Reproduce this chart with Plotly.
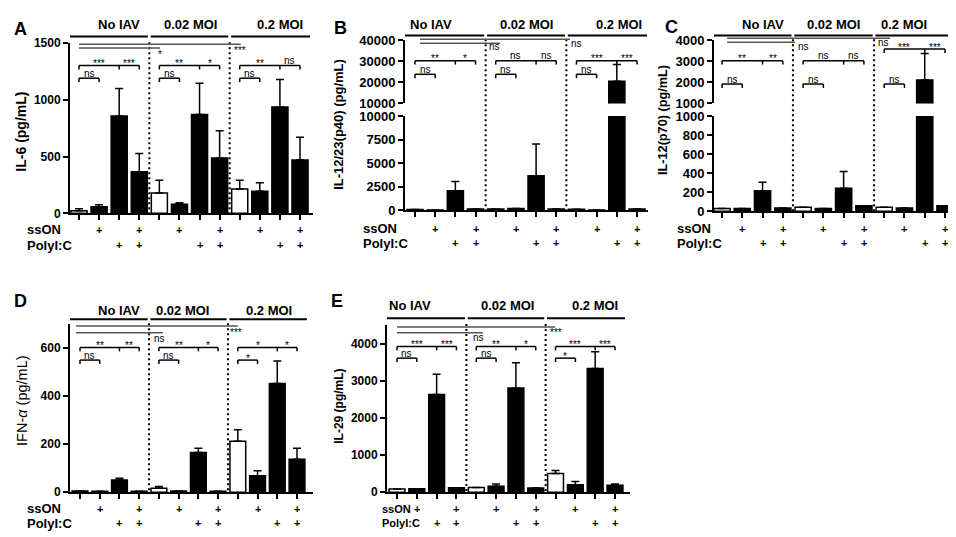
import plotly.graph_objects as go

W, H = 956, 537
FONT = "Arial, Liberation Sans, sans-serif"

groups = ["No IAV", "0.02 MOI", "0.2 MOI"]
ssON_marks = ["", "+", "", "+"] * 3
polyIC_marks = ["", "", "+", "+"] * 3
bar_pos = list(range(12))

# mean and upper error, 4 bars per infection group
il6 = [23, 57, 857, 367, 178, 80, 871, 487, 215, 195, 937, 470]
il6_err = [17, 18, 243, 160, 114, 12, 275, 241, 77, 74, 243, 200]
il12p40 = [100, 50, 2090, 150, 150, 200, 3660, 150, 120, 50, 20600, 150]
il12p40_err = [0, 0, 960, 0, 0, 0, 3390, 0, 0, 0, 7860, 0]
il12p70 = [30, 30, 217, 34, 44, 30, 242, 58, 44, 34, 2110, 58]
il12p70_err = [0, 0, 88, 0, 0, 0, 176, 0, 0, 0, 1260, 0]
ifna = [5, 4, 51, 4, 17, 5, 166, 4, 212, 69, 453, 137]
ifna_err = [0, 0, 7, 0, 7, 0, 17, 0, 48, 21, 93, 46]
il29 = [87, 96, 2635, 122, 131, 165, 2809, 113, 507, 200, 3330, 192]
il29_err = [0, 0, 539, 0, 0, 61, 678, 0, 78, 88, 453, 34]

# per group: (bar1 vs bar2, bar1 vs bar3, bar3 vs bar4)
sig_A = [("ns", "***", "***"), ("ns", "**", "*"), ("ns", "**", "ns")]
sig_B = [("ns", "**", "*"), ("ns", "ns", "ns"), ("ns", "***", "***")]
sig_C = [("ns", "**", "**"), ("ns", "ns", "ns"), ("ns", "***", "***")]
sig_D = [("ns", "**", "**"), ("ns", "**", "*"), ("*", "*", "*")]
sig_E = [("ns", "***", "***"), ("ns", "**", "*"), ("*", "***", "***")]
# untreated No IAV vs untreated (0.2 MOI, 0.02 MOI)
cross_A = ("***", "*")
cross_B = ("ns", "ns")
cross_C = ("ns", "ns")
cross_D = ("***", "ns")
cross_E = ("***", "ns")

ticks_A = [0, 500, 1000, 1500]
ticks_B_low = [0, 2500, 5000, 7500, 10000]
ticks_B_high = [10000, 20000, 30000, 40000]
ticks_C_low = [0, 200, 400, 600, 800, 1000]
ticks_C_high = [1000, 2000, 3000, 4000]
ticks_D = [0, 200, 400, 600]
ticks_E = [0, 1000, 2000, 3000, 4000]

fills = ["white", "black", "black", "black"] * 3

panels = [
    dict(letter="A", title="<b>IL-6 (pg/mL)</b>", vals=il6, errs=il6_err, sig=sig_A, cross=cross_A,
         x0=62, x1=305, b0=71, b11=292, segs=[(204, 29, 0, 1500, ticks_A)],
         head_y=22, lab_y=10, lab_x=[2.0, 5.55, 10.0], dot_top=28,
         long=[(30, 0.0, 8.05, 8.0, 34), (34, 0.0, 4.03, 4.03, 38)],
         main_y=[52, 52, 52], ns_y=[65, 65, 65], row_y=(221, 237), row_x=17, row_size=13,
         letter_pos=(12, 14), title_pos=(13, 120), title_size=14, tick_size=12),
    dict(letter="B", title="<b>IL-12/23(p40) (pg/mL)</b>", vals=il12p40, errs=il12p40_err, sig=sig_B,
         cross=cross_B, x0=397, x1=640, b0=407, b11=629,
         segs=[(201, 104, 0, 10000, ticks_B_low), (91, 26, 10000, 40000, ticks_B_high)],
         head_y=21, lab_y=10, lab_x=[0.8, 5.5, 10.1], dot_top=25,
         long=[(25, 0.25, 7.68, 7.98, 29.5), (29, 0.25, 4.21, 3.96, 33)],
         main_y=[47, 47, 47], ns_y=[61, 61, 61], row_y=(220, 235), row_x=353, row_size=13,
         letter_pos=(332, 13), title_pos=(331, 113), title_size=13, tick_size=13),
    dict(letter="C", title="<b>IL-12(p70) (pg/mL)</b>", vals=il12p70, errs=il12p70_err, sig=sig_C,
         cross=cross_C, x0=706, x1=950, b0=714, b11=937,
         segs=[(202, 104, 0, 1000, ticks_C_low), (91, 26, 1000, 4000, ticks_C_high)],
         head_y=21, lab_y=10, lab_x=[2.0, 5.5, 9.0], dot_top=25,
         long=[(24, 0.25, 8.29, 7.99, 29), (28, 0.25, 3.6, 4.0, 33)],
         main_y=[47, 47, 35], ns_y=[71, 71, 71], row_y=(220, 235), row_x=667, row_size=13,
         letter_pos=(663, 12), title_pos=(655, 108), title_size=12.7, tick_size=13),
    dict(letter="D", title="IFN-<i>α</i> (pg/mL)", vals=ifna, errs=ifna_err, sig=sig_D, cross=cross_D,
         x0=62, x1=305, b0=72, b11=289, segs=[(491, 318, 0, 700, ticks_D)],
         head_y=313, lab_y=303.5, lab_x=[2.0, 5.2, 9.6], dot_top=317,
         long=[(320, -0.2, 8.0, 7.9, 324), (327, -0.2, 4.2, 4.05, 333)],
         main_y=[342, 342, 342], ns_y=[355, 355, 355], row_y=(508, 523), row_x=17, row_size=13,
         letter_pos=(12, 294), title_pos=(14, 397), title_size=14.5, tick_size=12),
    dict(letter="E", title="<b>IL-29 (pg/mL)</b>", vals=il29, errs=il29_err, sig=sig_E, cross=cross_E,
         x0=379, x1=622, b0=389, b11=607, segs=[(491, 319, 0, 4500, ticks_E)],
         head_y=312, lab_y=299, lab_x=[0.66, 5.6, 10.0], dot_top=318,
         long=[(321, 0.0, 7.98, 8.03, 324), (327, 0.0, 4.34, 4.09, 332)],
         main_y=[341, 341, 341], ns_y=[353, 353, 353], row_y=(508, 523), row_x=372, row_size=11,
         letter_pos=(329, 294), title_pos=(331, 403), title_size=12, tick_size=12),
]


def py(p):
    return 1 - p / H


def akey(kind, n):
    return f"{kind}axis" if n == 1 else f"{kind}axis{n}"


def aref(kind, n):
    return kind if n == 1 else f"{kind}{n}"


fig = go.Figure()
axes = {}
shapes = []
annots = []


def hline(xr, xa, xb, y, color="black", width=1.5, dash="solid"):
    shapes.append(dict(type="line", xref=xr, yref="paper", x0=xa, x1=xb, y0=py(y), y1=py(y),
                       line=dict(color=color, width=width, dash=dash)))


def vline(xr, xv, ya, yb, color="black", width=1.5, dash="solid"):
    shapes.append(dict(type="line", xref=xr, yref="paper", x0=xv, x1=xv, y0=py(ya), y1=py(yb),
                       line=dict(color=color, width=width, dash=dash)))


def text(xr, x, y, s, size, bold=False, xanchor="center", angle=0):
    annots.append(dict(xref=xr, yref="paper", x=x, y=py(y), text=f"<b>{s}</b>" if bold else s,
                       showarrow=False, xanchor=xanchor, yanchor="middle", textangle=angle,
                       font=dict(family=FONT, size=size, color="black")))


def sig_text(xr, x, glyph_y, s):
    # asterisks sit high in the line box, "ns" sits low
    off = 2.5 if "*" in s else -0.6
    text(xr, x, glyph_y + off, s, 10)


yn = 0
for pn, P in enumerate(panels, start=1):
    xr = aref("x", pn)
    s = (P["b11"] - P["b0"]) / 11
    lo = -(P["b0"] - P["x0"]) / s
    hi = 11 + (P["x1"] - P["b11"]) / s
    axes[akey("x", pn)] = dict(domain=[P["x0"] / W, P["x1"] / W], range=[lo, hi],
                               anchor=aref("y", yn + 1), showline=True, linewidth=2, linecolor="black",
                               ticks="outside", tickvals=bar_pos, ticklen=5, tickwidth=1.5,
                               tickcolor="black", showticklabels=False, showgrid=False, zeroline=False)
    for pb, pt, vmin, vmax, tv in P["segs"]:
        yn += 1
        axes[akey("y", yn)] = dict(domain=[py(pb), py(pt)], range=[vmin, vmax], anchor=xr,
                                   showline=True, linewidth=2, linecolor="black", ticks="outside",
                                   tickvals=tv, tickformat="d", ticklen=5, tickwidth=2,
                                   tickcolor="black", showgrid=False, zeroline=False,
                                   tickfont=dict(family=FONT, size=P["tick_size"], color="black",
                                                 weight="bold"))
        fig.add_trace(go.Bar(x=bar_pos, y=P["vals"], xaxis=xr, yaxis=aref("y", yn), width=0.8,
                             marker=dict(color=fills, line=dict(color="black", width=1.5)),
                             error_y=dict(type="data", symmetric=False, array=P["errs"],
                                          arrayminus=[0] * 12, color="black", thickness=1.5, width=4),
                             hoverinfo="skip"))

    y_axis0 = P["segs"][0][0]
    # group headers
    for g in range(3):
        xa = lo if g == 0 else 4 * g - 0.43
        xb = 11.5 if g == 2 else 4 * g + 3.43
        hline(xr, xa, xb, P["head_y"], width=2)
        text(xr, P["lab_x"][g], P["lab_y"], groups[g], 13, bold=True)
    # dotted separators
    for xv in (3.5, 7.5):
        vline(xr, xv, P["dot_top"], y_axis0, width=2, dash="2px,3px")
    # comparisons against untreated No IAV
    for (ly, xa, xb, lx, gy), lab in zip(P["long"], P["cross"]):
        hline(xr, xa, xb, ly, color="#555555", width=1.5)
        sig_text(xr, lx, gy, lab)
    # within-group brackets
    for g in range(3):
        b = 4 * g
        ny = P["ns_y"][g]
        hline(xr, b, b + 1, ny)
        for xv in (b, b + 1):
            vline(xr, xv, ny, ny + 4)
        sig_text(xr, b + 0.5, ny - 4.5, P["sig"][g][0])
        my = P["main_y"][g]
        hline(xr, b, b + 3, my)
        for xv in (b, b + 2, b + 3):
            vline(xr, xv, my, my + 4)
        sig_text(xr, b + 1, my - 4.5, P["sig"][g][1])
        sig_text(xr, b + 2.5, my - 4.5, P["sig"][g][2])
    # treatment rows
    r1, r2 = P["row_y"]
    text("paper", P["row_x"] / W, r1, "ssON", P["row_size"], bold=True, xanchor="left")
    text("paper", P["row_x"] / W, r2, "PolyI:C", P["row_size"], bold=True, xanchor="left")
    for i in bar_pos:
        if ssON_marks[i]:
            text(xr, i, r1, ssON_marks[i], 11, bold=True)
        if polyIC_marks[i]:
            text(xr, i, r2, polyIC_marks[i], 11, bold=True)
    # panel letter and y title
    lx, ly = P["letter_pos"]
    text("paper", lx / W, ly, P["letter"], 18, bold=True)
    tx, ty = P["title_pos"]
    text("paper", tx / W, ty, P["title"], P["title_size"], angle=-90)

fig.update_layout(width=W, height=H, margin=dict(l=0, r=0, t=0, b=0), showlegend=False,
                  plot_bgcolor="white", paper_bgcolor="white", bargap=0.2,
                  shapes=shapes, annotations=annots, **axes)

fig.write_html("out.html")
